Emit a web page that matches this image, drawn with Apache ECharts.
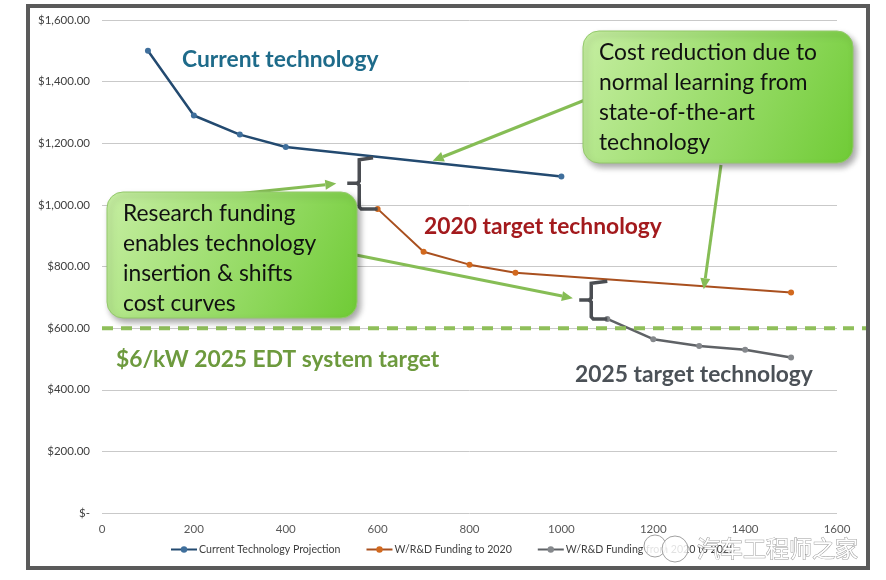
<!DOCTYPE html>
<html><head><meta charset="utf-8">
<script src="https://cdn.jsdelivr.net/npm/echarts@6/dist/echarts.min.js"></script>
<style>html,body{margin:0;padding:0;background:#fff}#c{width:886px;height:580px}</style>
</head><body><div id="c"></div>
<script>
// ---- data ----
const currentX = [100, 200, 300, 400, 1000];
const currentY = [1500, 1290, 1228, 1188, 1092];
const rd2020X = [600, 700, 800, 900, 1500];
const rd2020Y = [987, 848, 806, 780, 716];
const rd2025X = [1100, 1200, 1300, 1400, 1500];
const rd2025Y = [630, 564, 542, 530, 505];
const targetValue = 600;
const seriesNames = ['Current Technology Projection', 'W/R&D Funding to 2020', 'W/R&D Funding from 2020 to 2025'];
const xTicks = [0, 200, 400, 600, 800, 1000, 1200, 1400, 1600];
const yTicks = [0, 200, 400, 600, 800, 1000, 1200, 1400, 1600];

const pair = (xs, ys) => xs.map((x, i) => [x, ys[i]]);
const fmtY = v => v === 0 ? '$-' : '$' + v.toLocaleString('en-US', {minimumFractionDigits: 2, maximumFractionDigits: 2});

const chart = echarts.init(document.getElementById('c'));
const FONT = 'Lato, "Open Sans", sans-serif';

chart.setOption({
  animation: false,
  textStyle: {fontFamily: FONT},
  grid: {left: 102, right: 49, top: 20, bottom: 67},
  xAxis: {
    type: 'value', min: xTicks[0], max: xTicks[xTicks.length - 1], interval: 200,
    axisLine: {show: false}, axisTick: {show: false},
    splitLine: {show: false},
    axisLabel: {color: '#595959', fontSize: 11.5, margin: 10, formatter: v => String(v)}
  },
  yAxis: {
    type: 'value', min: yTicks[0], max: yTicks[yTicks.length - 1], interval: 200,
    axisLine: {show: false}, axisTick: {show: false},
    splitLine: {lineStyle: {color: '#c9c9c9', width: 1}},
    axisLabel: {color: '#404040', fontSize: 11.5, margin: 12, formatter: fmtY}
  },
  legend: {
    bottom: 20, left: 165, itemGap: 25, itemWidth: 26, itemHeight: 8,
    textStyle: {color: '#404040', fontSize: 10.6, fontFamily: FONT, padding: [0, 0, 0, -3]},
    data: seriesNames
  },
  series: [
    {name: seriesNames[0], type: 'line', data: pair(currentX, currentY), symbol: 'circle', symbolSize: 6,
     lineStyle: {color: '#234a70', width: 2.5}, itemStyle: {color: '#3f6f9c'}},
    {name: seriesNames[1], type: 'line', data: pair(rd2020X, rd2020Y), symbol: 'circle', symbolSize: 6,
     lineStyle: {color: '#a9501f', width: 2}, itemStyle: {color: '#d2691e'}},
    {name: seriesNames[2], type: 'line', data: pair(rd2025X, rd2025Y), symbol: 'circle', symbolSize: 6,
     lineStyle: {color: '#5f6266', width: 2.5}, itemStyle: {color: '#85888c'}}
  ]
});

const P = (x, y) => chart.convertToPixel({gridIndex: 0}, [x, y]);
const GREEN = '#86bd55';

function arrow(x1, y1, x2, y2) {
  const a = Math.atan2(y2 - y1, x2 - x1), L = 11, W = 5;
  const bx = x2 - L * Math.cos(a), by = y2 - L * Math.sin(a);
  return [
    {type: 'line', shape: {x1, y1, x2: bx, y2: by}, style: {stroke: GREEN, lineWidth: 3}, z: 50},
    {type: 'polygon', shape: {points: [[x2, y2], [bx + W * Math.sin(a), by - W * Math.cos(a)], [bx - W * Math.sin(a), by + W * Math.cos(a)]]},
     style: {fill: GREEN}, z: 50}
  ];
}
function bracket(xv, topV, botV, topEndX, botEndX) {
  const t = P(xv, topV), b = P(xv, botV);
  const te = P(topEndX, topV), be = P(botEndX, botV);
  const mid = (t[1] + b[1]) / 2;
  const x = t[0];
  return [{type: 'polyline', shape: {points: [[te[0], t[1]], [x, t[1] + 2], [x, mid - 2], [x - 2, mid], [x - 12, mid]]},
           style: {stroke: '#4a4d52', lineWidth: 3.5, fill: null}, z: 40},
          {type: 'polyline', shape: {points: [[x - 2, mid], [x, mid + 2], [x, b[1] - 2], [x + 2, b[1]], [be[0], b[1]]]},
           style: {stroke: '#4a4d52', lineWidth: 3.5, fill: null}, z: 40}];
}
function box(x, y, w, h, lines) {
  return [
    {type: 'rect', shape: {x: x, y: y, width: w, height: h, r: 16},
     style: {fill: new echarts.graphic.LinearGradient(0, 0, 1, 1, [{offset: 0, color: '#c6eea2'}, {offset: 1, color: '#6fcb35'}]),
             stroke: '#93c86b', lineWidth: 1, shadowBlur: 6, shadowOffsetX: 3, shadowOffsetY: 4, shadowColor: 'rgba(0,0,0,0.35)'}, z: 60},
    {type: 'text', x: x + 16, y: y + 7,
     style: {text: lines.join('\n'), fill: '#111', font: '22.8px ' + FONT, lineHeight: 30}, z: 61}
  ];
}
const label = (x, y, text, color) => ({type: 'text', x, y,
  style: {text, fill: color, font: 'bold 22.8px ' + FONT, verticalAlign: 'middle'}, z: 45});

const tgt = P(0, targetValue);
const g = [
  {type: 'rect', shape: {x: 28, y: 6, width: 840, height: 562}, style: {fill: null, stroke: '#5a5a5a', lineWidth: 4}, z: 1},
  {type: 'line', shape: {x1: tgt[0], y1: tgt[1], x2: 866, y2: tgt[1]},
   style: {stroke: '#8fbf5a', lineWidth: 4, lineDash: [11, 8]}, z: 30},
  label(182, 60, 'Current technology', '#1e6b8a'),
  label(424, 227, '2020 target technology', '#a31a1d'),
  label(575, 375, '2025 target technology', '#4b5157'),
  label(116, 360, '$6/kW 2025 EDT system target', '#6d9a3e'),
  ...bracket(560, 1153, rd2020Y[0], 590, rd2020X[0]),
  ...bracket(1065, 752, rd2025Y[0], 1100, rd2025X[0]),
  ...arrow(226, 195, P(510, 1069)[0], P(510, 1069)[1]),
  ...arrow(356, 255, P(1025, 697)[0], P(1025, 697)[1]),
  ...arrow(585, 100, P(720, 1143)[0], P(720, 1143)[1]),
  ...arrow(721, 165, P(1310, 726)[0], P(1310, 726)[1]),
  ...box(583, 31, 270, 132, ['Cost reduction due to', 'normal learning from', 'state-of-the-art', 'technology']),
  ...box(107, 192, 250, 126, ['Research funding', 'enables technology', 'insertion & shifts', 'cost curves']),
  {type: 'circle', shape: {cx: 655, cy: 546, r: 11}, style: {fill: 'rgba(255,255,255,0.85)', stroke: '#a0a0a0', lineWidth: 1}, z: 79},
  {type: 'circle', shape: {cx: 675, cy: 549, r: 13}, style: {fill: 'rgba(255,255,255,0.85)', stroke: '#a0a0a0', lineWidth: 1}, z: 79},
  {type: 'text', x: 697, y: 548, style: {text: '汽车工程师之家', fill: '#fff', stroke: '#9a9a9a', lineWidth: 1,
    font: '23px "Noto Sans CJK SC"', verticalAlign: 'middle'}, z: 80}
];
chart.setOption({graphic: g});
</script></body></html>
